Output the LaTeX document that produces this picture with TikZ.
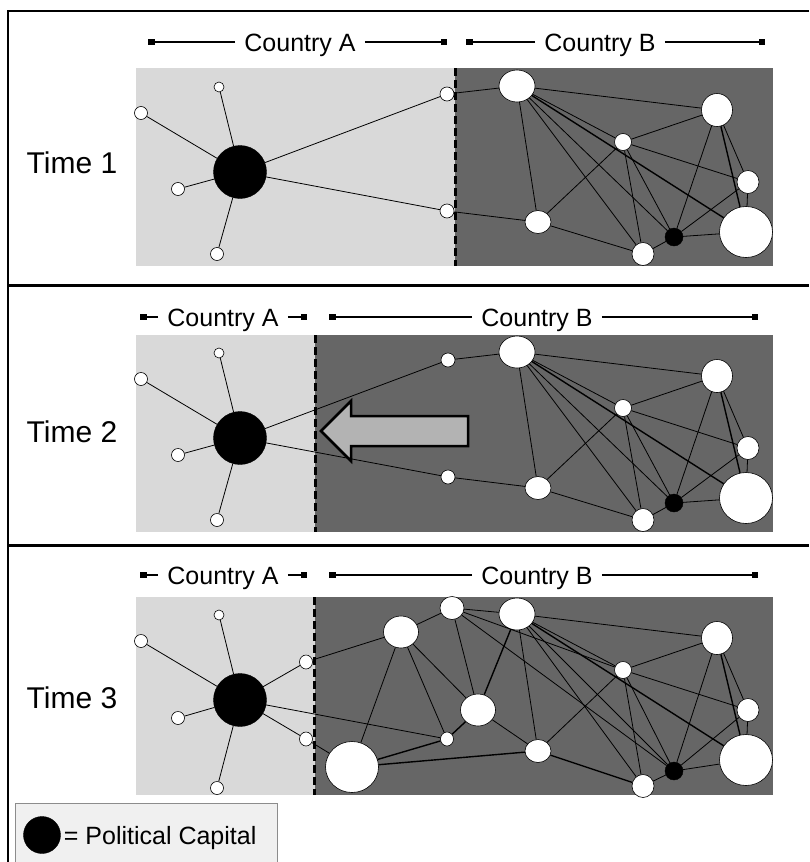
\documentclass[tikz,border=0pt]{standalone}
\usepackage{fontspec}
\setmainfont{Liberation Sans}
\usepackage{tikz}
\usetikzlibrary{shapes.geometric,arrows.meta,positioning}

\definecolor{lightside}{HTML}{D9D9D9}
\definecolor{darkside}{HTML}{666666}
\definecolor{arrowfill}{HTML}{B3B3B3}
\definecolor{legendfill}{HTML}{F0F0F0}
\definecolor{legendline}{HTML}{8C8C8C}

\begin{document}
\begin{tikzpicture}[x=1pt,y=-1pt,
 wn/.style 2 args={ellipse,draw,fill=white,line width=0.6pt,inner sep=0pt,minimum width=#1pt,minimum height=#2pt},
 capnode/.style={circle,draw,fill=black,inner sep=0pt,minimum size=#1pt},
 ties/.style={line width=0.8pt},
 heavy/.style={line width=1.4pt},
 border/.style={line width=3pt,dash pattern=on 8pt off 4pt},
 bar/.style={line width=1.2pt,-{Square[length=6.5pt,width=6.5pt]}},
 hdr/.style={font=\fontsize{25}{30}\selectfont,inner xsep=9pt,inner ysep=0pt,text height=18pt,text depth=0pt},
 timelbl/.style={font=\fontsize{30}{36}\selectfont,inner sep=0pt,text height=21.5pt,text depth=0pt},
 blockarrow/.style={fill=arrowfill,draw=black,line width=2.5pt,line join=miter}]
 \useasboundingbox (0,0) rectangle (809,862);

 % frame
 \draw[line width=1.5pt] (809,11) -- (8,11) -- (8,870);
 \draw[line width=3pt] (8,285) -- (809,285) (8,545) -- (809,545);

 % ---------------- time 1
 \fill[lightside] (136,68) rectangle (455,266);
 \fill[darkside] (455,68) rectangle (773,266);
 \draw[border] (455,68) -- (455,266);
 \node[timelbl] (t1) at (72,163) {Time 1};
 \node[hdr] (t1hA) at (300,42) {Country A};
 \node[hdr] (t1hB) at (600,42) {Country B};
 \coordinate (t1hA-l) at (148,42);
 \coordinate (t1hA-r) at (447,42);
 \coordinate (t1hB-l) at (466,42);
 \coordinate (t1hB-r) at (765,42);
 \draw[bar] (t1hA) -- (t1hA-l);
 \draw[bar] (t1hA) -- (t1hA-r);
 \draw[bar] (t1hB) -- (t1hB-l);
 \draw[bar] (t1hB) -- (t1hB-r);

 \node[capnode=53] (t1P) at (240,172) {};
 \node[wn={13}{13}] (t1a1) at (141,113) {};
 \node[wn={10}{10}] (t1a2) at (219,87) {};
 \node[wn={13}{13}] (t1a3) at (178,189) {};
 \node[wn={13}{13}] (t1a4) at (217,254) {};
 \node[wn={14}{14}] (t1a5) at (447,94) {};
 \node[wn={14}{14}] (t1a6) at (447,211) {};
 \node[wn={36}{32}] (t1b1) at (517,86) {};
 \node[wn={31}{33}] (t1b2) at (717,110) {};
 \node[wn={17}{17}] (t1b3) at (623,142) {};
 \node[wn={22}{23}] (t1b4) at (748,182) {};
 \node[wn={26}{23}] (t1b5) at (538,222) {};
 \node[wn={22}{23}] (t1b6) at (643,254) {};
 \node[capnode=18] (t1b7) at (674,237) {};
 \node[wn={53}{51}] (t1b8) at (746,232) {};

 \path[ties]
 (t1P) edge (t1a1) (t1P) edge (t1a2) (t1P) edge (t1a3) (t1P) edge (t1a4)
 (t1P) edge (t1a5) (t1P) edge (t1a6)
 (t1a5) edge (t1b1) (t1a6) edge (t1b5)
 (t1b1) edge (t1b2) (t1b1) edge (t1b3) (t1b1) edge (t1b5) (t1b1) edge (t1b6) (t1b1) edge (t1b7)
 (t1b2) edge (t1b3) (t1b2) edge (t1b4) (t1b2) edge (t1b7)
 (t1b3) edge (t1b4) (t1b3) edge (t1b5) (t1b3) edge (t1b6) (t1b3) edge (t1b7)
 (t1b4) edge (t1b7) (t1b4) edge (t1b8)
 (t1b5) edge (t1b6) (t1b6) edge (t1b7) (t1b7) edge (t1b8);
 \path[heavy] (t1b1) edge (t1b8) (t1b2) edge (t1b8);

 % ---------------- time 2
 \fill[lightside] (136,335) rectangle (315,532);
 \fill[darkside] (315,335) rectangle (773,532);
 \draw[border] (315,335) -- (315,532);
 \node[timelbl] (t2) at (72,432) {Time 2};
 \node[hdr] (t2hA) at (223,317) {Country A};
 \node[hdr] (t2hB) at (537,317) {Country B};
 \coordinate (t2hA-l) at (140,317);
 \coordinate (t2hA-r) at (307,317);
 \coordinate (t2hB-l) at (329,317);
 \coordinate (t2hB-r) at (758,317);
 \draw[bar] (t2hA) -- (t2hA-l);
 \draw[bar] (t2hA) -- (t2hA-r);
 \draw[bar] (t2hB) -- (t2hB-l);
 \draw[bar] (t2hB) -- (t2hB-r);

 \node[capnode=53] (t2P) at (240,438) {};
 \node[wn={13}{13}] (t2a1) at (141,379) {};
 \node[wn={10}{10}] (t2a2) at (219,353) {};
 \node[wn={13}{13}] (t2a3) at (178,455) {};
 \node[wn={13}{13}] (t2a4) at (217,520) {};
 \node[wn={14}{14}] (t2c1) at (448,360) {};
 \node[wn={14}{14}] (t2c2) at (448,477) {};
 \node[wn={36}{32}] (t2b1) at (517,352) {};
 \node[wn={31}{33}] (t2b2) at (717,376) {};
 \node[wn={17}{17}] (t2b3) at (623,408) {};
 \node[wn={22}{23}] (t2b4) at (748,448) {};
 \node[wn={26}{23}] (t2b5) at (538,488) {};
 \node[wn={22}{23}] (t2b6) at (643,520) {};
 \node[capnode=18] (t2b7) at (674,503) {};
 \node[wn={53}{51}] (t2b8) at (746,498) {};

 \path[ties]
 (t2P) edge (t2a1) (t2P) edge (t2a2) (t2P) edge (t2a3) (t2P) edge (t2a4)
 (t2P) edge (t2c1) (t2P) edge (t2c2)
 (t2c1) edge (t2b1) (t2c2) edge (t2b5)
 (t2b1) edge (t2b2) (t2b1) edge (t2b3) (t2b1) edge (t2b5) (t2b1) edge (t2b6) (t2b1) edge (t2b7)
 (t2b2) edge (t2b3) (t2b2) edge (t2b4) (t2b2) edge (t2b7)
 (t2b3) edge (t2b4) (t2b3) edge (t2b5) (t2b3) edge (t2b6) (t2b3) edge (t2b7)
 (t2b4) edge (t2b7) (t2b4) edge (t2b8)
 (t2b5) edge (t2b6) (t2b6) edge (t2b7) (t2b7) edge (t2b8);
 \path[heavy] (t2b1) edge (t2b8) (t2b2) edge (t2b8);

 % shift of the border
 \draw[blockarrow] (468,416) -- (351,416) -- (351,401) -- (321,431)
 -- (351,461) -- (351,446) -- (468,446) -- cycle;

 % ---------------- time 3
 \fill[lightside] (136,597) rectangle (315,795);
 \fill[darkside] (315,597) rectangle (773,795);
 \draw[border] (314,597) -- (314,795);
 \node[timelbl] (t3) at (72,698) {Time 3};
 \node[hdr] (t3hA) at (223,575) {Country A};
 \node[hdr] (t3hB) at (537,575) {Country B};
 \coordinate (t3hA-l) at (140,575);
 \coordinate (t3hA-r) at (307,575);
 \coordinate (t3hB-l) at (329,575);
 \coordinate (t3hB-r) at (758,575);
 \draw[bar] (t3hA) -- (t3hA-l);
 \draw[bar] (t3hA) -- (t3hA-r);
 \draw[bar] (t3hB) -- (t3hB-l);
 \draw[bar] (t3hB) -- (t3hB-r);

 \node[capnode=53] (t3P) at (240,700) {};
 \node[wn={13}{13}] (t3a1) at (141,641) {};
 \node[wn={10}{10}] (t3a2) at (219,615) {};
 \node[wn={13}{13}] (t3a3) at (178,718) {};
 \node[wn={13}{13}] (t3a4) at (217,788) {};
 \node[wn={13}{14}] (t3d1) at (306,662) {};
 \node[wn={13}{14}] (t3d2) at (306,739) {};
 \node[wn={35}{32}] (t3e1) at (401,632) {};
 \node[wn={24}{23}] (t3e2) at (452,608) {};
 \node[wn={35}{32}] (t3e3) at (478,710) {};
 \node[wn={13}{14}] (t3e4) at (447,739) {};
 \node[wn={53}{51}] (t3e5) at (352,767) {};
 \node[wn={36}{32}] (t3b1) at (517,614) {};
 \node[wn={31}{33}] (t3b2) at (717,638) {};
 \node[wn={17}{17}] (t3b3) at (623,670) {};
 \node[wn={22}{23}] (t3b4) at (748,710) {};
 \node[wn={26}{23}] (t3b5) at (538,751) {};
 \node[wn={22}{23}] (t3b6) at (643,786) {};
 \node[capnode=18] (t3b7) at (674,771) {};
 \node[wn={53}{51}] (t3b8) at (746,760) {};

 \path[ties]
 (t3P) edge (t3a1) (t3P) edge (t3a2) (t3P) edge (t3a3) (t3P) edge (t3a4)
 (t3P) edge (t3d1) (t3P) edge (t3d2) (t3P) edge (t3e4)
 (t3d1) edge (t3e1) (t3d2) edge (t3e5)
 (t3e1) edge (t3e2) (t3e1) edge (t3e3) (t3e1) edge (t3e4) (t3e1) edge (t3e5)
 (t3e2) edge (t3b1) (t3e2) edge (t3e3) (t3e2) edge (t3b3) (t3e2) edge (t3b7)
 (t3e3) edge (t3b5)
 (t3b1) edge (t3b2) (t3b1) edge (t3b3) (t3b1) edge (t3b5) (t3b1) edge (t3b6) (t3b1) edge (t3b7)
 (t3b2) edge (t3b3) (t3b2) edge (t3b4) (t3b2) edge (t3b7)
 (t3b3) edge (t3b4) (t3b3) edge (t3b5) (t3b3) edge (t3b6) (t3b3) edge (t3b7)
 (t3b4) edge (t3b7) (t3b4) edge (t3b8)
 (t3b6) edge (t3b7) (t3b7) edge (t3b8);
 \path[heavy] (t3b1) edge (t3b8) (t3b2) edge (t3b8) (t3b1) edge (t3e3)
 (t3e3) edge (t3e4) (t3e4) edge (t3e5) (t3e5) edge (t3b5) (t3b5) edge (t3b6);

 % legend
 \draw[legendline,fill=legendfill,line width=0.8pt] (15,803) rectangle (277,875);
 \node[capnode=37] (key) at (42,835) {};
 \node[font=\fontsize{25}{30}\selectfont,inner sep=0pt,text height=18pt,text depth=0pt,right=3pt of key] (keytext) {= Political Capital};
\end{tikzpicture}
\end{document}
